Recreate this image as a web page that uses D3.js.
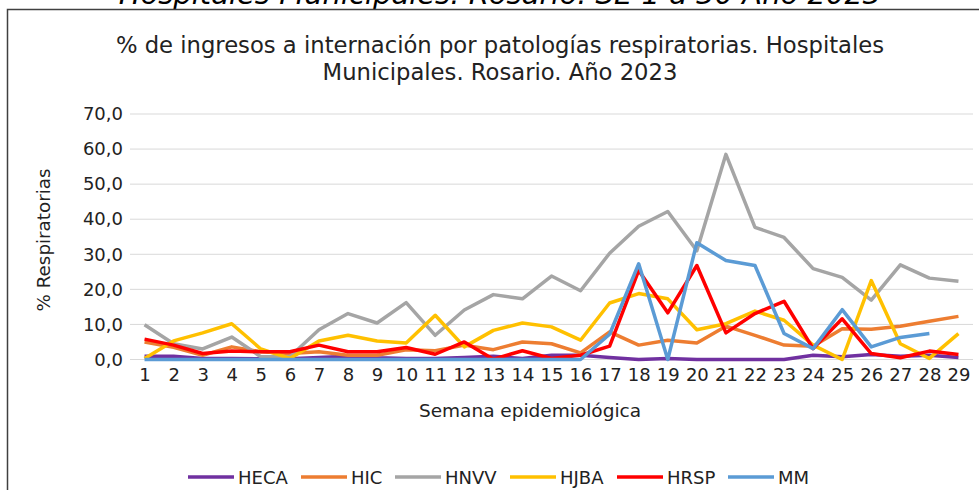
<!DOCTYPE html>
<html>
<head>
<meta charset="utf-8">
<script src="https://cdn.jsdelivr.net/npm/d3@7"></script>
<style>
  html, body { margin: 0; padding: 0; background: #fff; }
  svg { display: block; }
</style>
</head>
<body>
<div id="chart"></div>
<script>
// Data (% respiratory admissions per week)
const weeks = d3.range(1, 30);
const seriesNames = ['HECA', 'HIC', 'HNVV', 'HJBA', 'HRSP', 'MM'];
const seriesColors = ['#7030A0', '#ED7D31', '#A5A5A5', '#FFC000', '#FF0000', '#5B9BD5'];

const heca = [0.9, 0.9, 0.3, 0.3, 0.2, 0.2, 0.6, 0.9, 0.5, 0.3, 0.3, 0.6, 0.9, 0.3, 1.2, 1.2, 0.6, 0, 0.3, 0, 0, 0, 0, 1.2, 0.8, 1.4, 0.9, 1.2, 0.6];
const hic = [5.0, 3.5, 1.2, 3.6, 2.2, 1.7, 2.2, 1.2, 1.2, 2.8, 2.5, 4.1, 2.8, 5.0, 4.5, 1.9, 7.9, 4.1, 5.5, 4.7, 9.5, 6.9, 4.1, 3.8, 8.8, 8.6, 9.5, 10.9, 12.3];
const hnvv = [9.9, 4.5, 3.0, 6.4, 0.8, 0.8, 8.5, 13.1, 10.4, 16.2, 6.9, 14.1, 18.5, 17.3, 23.8, 19.6, 30.3, 38.0, 42.2, 31.0, 58.5, 37.7, 34.8, 25.9, 23.4, 16.9, 27.0, 23.2, 22.3];
const hjba = [0.3, 5.3, 7.6, 10.2, 3.0, 0.3, 5.3, 6.9, 5.3, 4.7, 12.6, 3.6, 8.3, 10.4, 9.3, 5.5, 16.1, 18.8, 17.3, 8.5, 10.2, 13.8, 11.2, 4.1, 0, 22.5, 4.5, 0.3, 7.4];
const hrsp = [5.8, 4.1, 1.7, 2.4, 2.2, 2.2, 4.1, 2.2, 2.2, 3.4, 1.5, 5.0, 0.1, 2.5, 0.3, 1.2, 3.8, 25.4, 13.3, 26.8, 7.6, 13.1, 16.6, 3.1, 11.6, 1.7, 0.5, 2.4, 1.4];
const mm = [0, 0, 0, 0, 0, 0, 0, 0, 0, 0, 0, 0, 0, 0, 0, 0, 7.2, 27.3, 0, 33.3, 28.2, 26.8, 7.4, 3.1, 14.2, 3.6, 6.3, 7.4, null];

const yTicks = [0, 10, 20, 30, 40, 50, 60, 70];

const series = [heca, hic, hnvv, hjba, hrsp, mm].map((values, i) => ({
  name: seriesNames[i],
  color: seriesColors[i],
  values: values
}));

const width = 979;
const height = 490;
const font = 'DejaVu Sans, sans-serif';
const textColor = '#222';

const svg = d3.select('#chart')
  .append('svg')
  .attr('width', width)
  .attr('height', height);

// Cut-off heading from the page above the chart
svg.append('text')
  .attr('x', 500)
  .attr('y', 3.5)
  .attr('text-anchor', 'middle')
  .attr('font-family', font)
  .attr('font-style', 'italic')
  .attr('font-size', '29px')
  .attr('fill', '#000')
  .text('Hospitales Municipales. Rosario. SE 1 a 30 Año 2023');

// Chart frame (left and top edges visible)
svg.append('path')
  .attr('d', `M${width},9.5H7.5V${height}`)
  .attr('fill', 'none')
  .attr('stroke', '#404040')
  .attr('stroke-width', 1.5);

// Title
const title = svg.append('text')
  .attr('text-anchor', 'middle')
  .attr('font-family', font)
  .attr('font-size', '22.7px')
  .attr('fill', textColor);
title.append('tspan').attr('x', 500).attr('y', 53)
  .text('% de ingresos a internación por patologías respiratorias. Hospitales');
title.append('tspan').attr('x', 500).attr('y', 80)
  .text('Municipales. Rosario. Año 2023');

// Scales
const x = d3.scalePoint()
  .domain(weeks)
  .range([130, 973])
  .padding(0.5);

const y = d3.scaleLinear()
  .domain([0, 70])
  .range([359.5, 114]);

// Gridlines
svg.append('g')
  .selectAll('line')
  .data(yTicks)
  .join('line')
  .attr('x1', 130)
  .attr('x2', 973)
  .attr('y1', d => y(d))
  .attr('y2', d => y(d))
  .attr('stroke', '#d9d9d9')
  .attr('stroke-width', 1);

// Y axis labels
const yAxis = svg.append('g')
  .attr('transform', 'translate(130,0)')
  .call(d3.axisLeft(y).tickValues(yTicks).tickSize(0).tickPadding(7)
    .tickFormat(d => d3.format('.1f')(d).replace('.', ',')));
yAxis.select('.domain').remove();
yAxis.selectAll('text')
  .attr('font-family', font)
  .attr('font-size', '18px')
  .attr('fill', textColor);

// X axis labels
const xAxis = svg.append('g')
  .attr('transform', `translate(0,${y(0)})`)
  .call(d3.axisBottom(x).tickSize(0).tickPadding(9));
xAxis.select('.domain').remove();
xAxis.selectAll('text')
  .attr('font-family', font)
  .attr('font-size', '18px')
  .attr('fill', textColor);

// Axis titles
svg.append('text')
  .attr('x', 530)
  .attr('y', 417)
  .attr('text-anchor', 'middle')
  .attr('font-family', font)
  .attr('font-size', '18.5px')
  .attr('fill', textColor)
  .text('Semana epidemiológica');

svg.append('text')
  .attr('transform', 'translate(50,240) rotate(-90)')
  .attr('text-anchor', 'middle')
  .attr('font-family', font)
  .attr('font-size', '18.3px')
  .attr('fill', textColor)
  .text('% Respiratorias');

// Lines
const line = d3.line()
  .defined(d => d.v !== null)
  .x(d => x(d.w))
  .y(d => y(d.v));

svg.append('g')
  .selectAll('path')
  .data(series)
  .join('path')
  .attr('d', s => line(s.values.map((v, i) => ({ w: weeks[i], v: v }))))
  .attr('fill', 'none')
  .attr('stroke', s => s.color)
  .attr('stroke-width', 3.5)
  .attr('stroke-linejoin', 'round');

// Legend
const legendX = [188, 301, 395, 510, 617, 728];
const legend = svg.append('g')
  .selectAll('g')
  .data(series)
  .join('g')
  .attr('transform', (s, i) => `translate(${legendX[i]},477)`);

legend.append('line')
  .attr('x1', 0)
  .attr('x2', 46)
  .attr('stroke', s => s.color)
  .attr('stroke-width', 3.5);

legend.append('text')
  .attr('x', 50)
  .attr('y', 6.5)
  .attr('font-family', font)
  .attr('font-size', '18px')
  .attr('fill', textColor)
  .text(s => s.name);
</script>
</body>
</html>
